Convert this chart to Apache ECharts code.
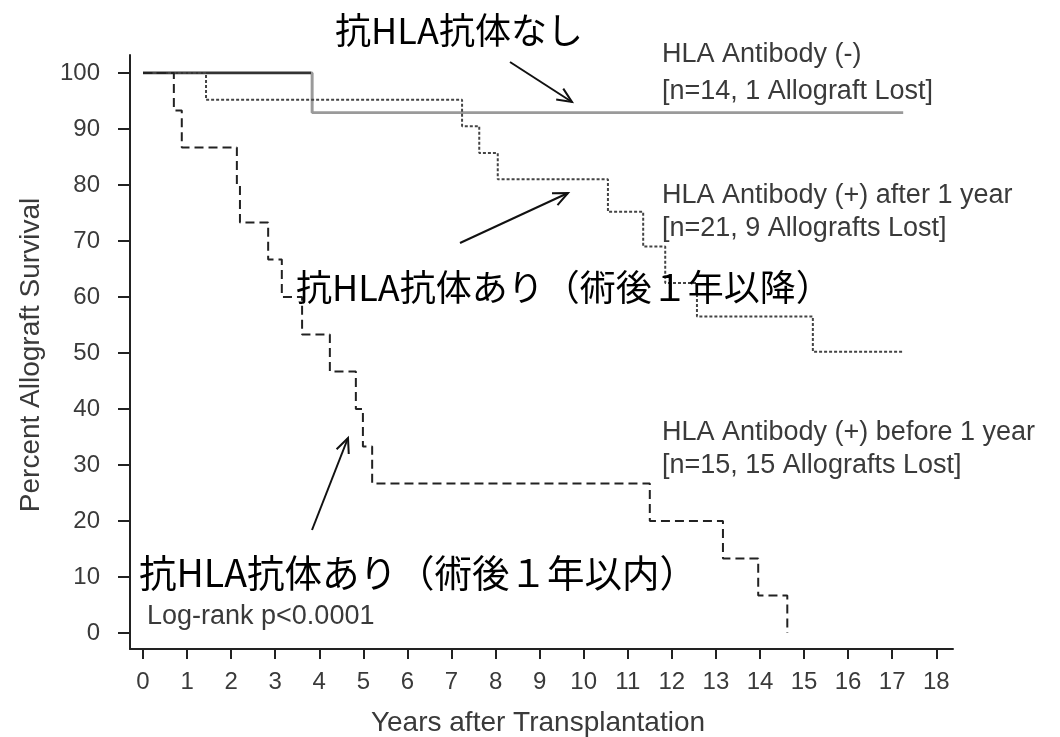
<!DOCTYPE html>
<html>
<head>
<meta charset="utf-8">
<script src="https://cdn.jsdelivr.net/npm/echarts@6/dist/echarts.min.js"></script>
<style>
  html, body { margin: 0; padding: 0; background: #fff; }
  #chart { width: 1060px; height: 737px; }
</style>
</head>
<body>
<div id="chart"></div>
<script>
// Kaplan-Meier allograft survival, three groups (event time in years, survival % after event)
const yearsNeg = [0, 3.84, 17.25];
const survNeg = [100, 92.9, 92.9];

const yearsAfter = [0, 1.43, 7.24, 7.63, 8.05, 10.55, 11.35, 11.85, 12.57, 15.2, 17.25];
const survAfter = [100, 95.2, 90.5, 85.7, 81.0, 75.2, 69.0, 62.5, 56.5, 50.2, 50.2];

const yearsBefore = [0, 0.70, 0.88, 2.13, 2.2, 2.84, 3.15, 3.61, 4.24, 4.83, 4.99, 5.2, 11.5, 13.16, 13.96, 14.62];
const survBefore = [100, 93.3, 86.7, 80.0, 73.3, 66.7, 60.0, 53.3, 46.7, 40.0, 33.3, 26.7, 20.0, 13.3, 6.7, 0];

const xTicks = [0, 1, 2, 3, 4, 5, 6, 7, 8, 9, 10, 11, 12, 13, 14, 15, 16, 17, 18];
const yTicks = [0, 10, 20, 30, 40, 50, 60, 70, 80, 90, 100];

const groupLabels = [
  ['HLA Antibody (-)', '[n=14, 1 Allograft Lost]'],
  ['HLA Antibody (+) after 1 year', '[n=21, 9 Allografts Lost]'],
  ['HLA Antibody (+) before 1 year', '[n=15, 15 Allografts Lost]']
];
const jpNone = '抗HLA抗体なし';
const jpAfter = '抗HLA抗体あり（術後１年以降）';
const jpBefore = '抗HLA抗体あり（術後１年以内）';
const statText = 'Log-rank p<0.0001';
const xTitle = 'Years after Transplantation';
const yTitle = 'Percent Allograft Survival';

const pairs = (xs, ys) => xs.map((x, i) => [x, ys[i]]);

const LATIN = '"Liberation Sans", Arial, sans-serif';
const CJK = '"Noto Sans CJK JP", sans-serif';
const TEXT = '#3a3a3a';

// The antibody-negative curve is dark while still at 100 % and grey after its single loss
const negSplit = (yearsNeg[1] - yearsNeg[0]) / (yearsNeg[yearsNeg.length - 1] - yearsNeg[0]);
const negColor = new echarts.graphic.LinearGradient(0, 0, 1, 0, [
  { offset: 0, color: '#333' },
  { offset: negSplit, color: '#333' },
  { offset: negSplit, color: '#9a9a9a' },
  { offset: 1, color: '#9a9a9a' }
]);

function arrow(x1, y1, x2, y2) {
  const a = Math.atan2(y2 - y1, x2 - x1);
  const L = 16, w = 0.42;
  const style = { stroke: '#111', lineWidth: 2, fill: null };
  return [
    { type: 'polyline', shape: { points: [[x1, y1], [x2, y2]] }, style },
    { type: 'polyline', shape: { points: [
        [x2 - L * Math.cos(a - w), y2 - L * Math.sin(a - w)],
        [x2, y2],
        [x2 - L * Math.cos(a + w), y2 - L * Math.sin(a + w)]
      ] }, style }
  ];
}

function txt(text, x, y, font, opts) {
  return {
    type: 'text', x, y, z: 10,
    style: Object.assign({ text, font, fill: TEXT, align: 'left', verticalAlign: 'middle' }, opts || {})
  };
}

const chart = echarts.init(document.getElementById('chart'));
chart.setOption({
  animation: false,
  backgroundColor: '#fff',
  grid: { left: 130, right: 107, top: 55, bottom: 88 },
  xAxis: {
    type: 'value', min: -0.295, max: 18.38,
    axisLine: { show: true, onZero: false, lineStyle: { color: '#222', width: 2 } },
    axisTick: { show: true, length: 10, customValues: xTicks, lineStyle: { color: '#222', width: 2 } },
    axisLabel: { customValues: xTicks, margin: 21, color: TEXT, fontSize: 24, fontFamily: LATIN },
    splitLine: { show: false }
  },
  yAxis: {
    type: 'value', min: -2.86, max: 103.2,
    axisLine: { show: true, onZero: false, lineStyle: { color: '#222', width: 2 } },
    axisTick: { show: true, length: 12, customValues: yTicks, lineStyle: { color: '#222', width: 2 } },
    axisLabel: { customValues: yTicks, margin: 30, color: TEXT, fontSize: 24, fontFamily: LATIN },
    splitLine: { show: false }
  },
  series: [
    {
      name: groupLabels[0][0], type: 'line', step: 'end', symbol: 'none',
      data: pairs(yearsNeg, survNeg),
      lineStyle: { color: negColor, width: 2.8, type: 'solid' }, z: 2
    },
    {
      name: groupLabels[1][0], type: 'line', step: 'end', symbol: 'none',
      data: pairs(yearsAfter, survAfter),
      lineStyle: { color: '#444', width: 2, type: [3, 2] }, z: 3
    },
    {
      name: groupLabels[2][0], type: 'line', step: 'end', symbol: 'none',
      data: pairs(yearsBefore, survBefore),
      lineStyle: { color: '#222', width: 2, type: [9, 5] }, z: 4
    }
  ],
  graphic: [
    txt(groupLabels[0][0], 662, 55, '27px ' + LATIN),
    txt(groupLabels[0][1], 662, 92, '27px ' + LATIN),
    txt(groupLabels[1][0], 662, 196, '27px ' + LATIN),
    txt(groupLabels[1][1], 662, 229, '27px ' + LATIN),
    txt(groupLabels[2][0], 662, 433, '27px ' + LATIN),
    txt(groupLabels[2][1], 662, 466, '27px ' + LATIN),
    txt(statText, 147, 617, '27px ' + LATIN),
    txt(xTitle, 538, 723, '28px ' + LATIN, { align: 'center' }),
    Object.assign(txt(yTitle, 31, 355, '28px ' + LATIN, { align: 'center' }), { rotation: Math.PI / 2 }),
    txt(jpNone, 459, 30, '36px ' + CJK, { align: 'center', fill: '#000' }),
    txt(jpAfter, 296, 287, '36px ' + CJK, { fill: '#000' }),
    txt(jpBefore, 139, 573, '37.5px ' + CJK, { fill: '#000' }),
    ...arrow(510, 62, 572, 102),
    ...arrow(460, 243, 568, 193),
    ...arrow(312, 530, 348, 438)
  ]
});
</script>
</body>
</html>
